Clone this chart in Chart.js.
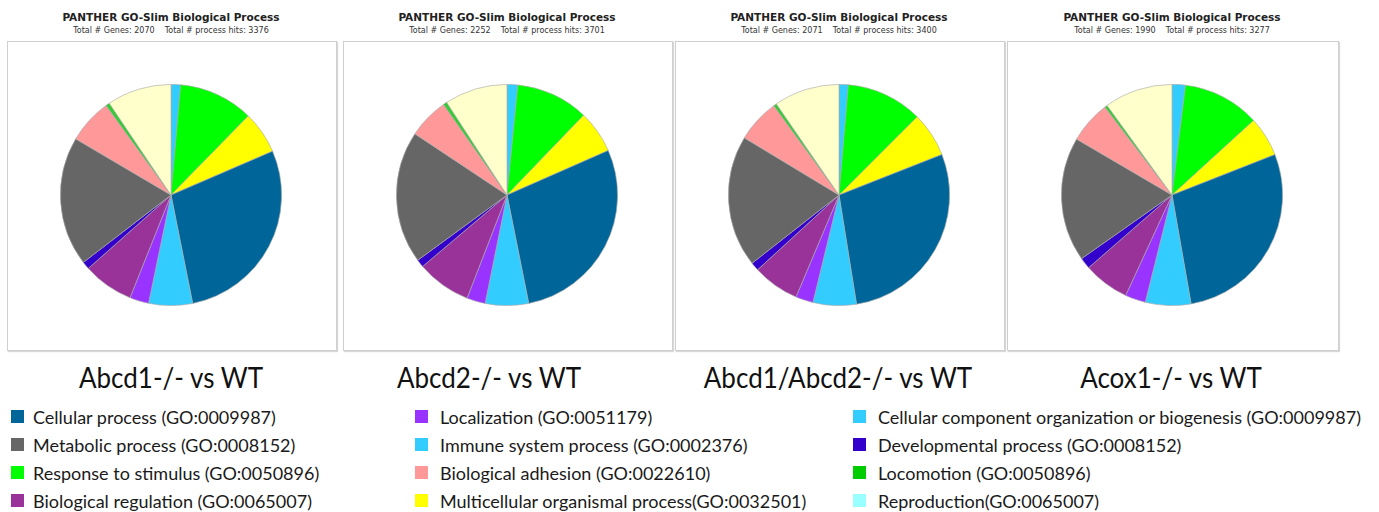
<!DOCTYPE html>
<html>
<head>
<meta charset="utf-8">
<script src="https://cdn.jsdelivr.net/npm/chart.js@4.4.1/dist/chart.umd.min.js"></script>
<style>
  html, body { margin: 0; padding: 0; background: #fff; }
  body { width: 1379px; height: 512px; position: relative; overflow: hidden; }
  .head { position: absolute; top: 0; width: 330px; text-align: center; font-family: "DejaVu Sans", sans-serif; color: #222; }
  .head .t { position: absolute; top: 11px; left: 0; right: 0; font-size: 10.5px; font-weight: bold; }
  .head .s { position: absolute; top: 26px; left: 0; right: 0; font-size: 8px; white-space: pre; color: #333; }
  .box { position: absolute; top: 41px; height: 308px; border: 1px solid #cfcfcf; box-shadow: 1px 1px 1px #d8d8d8; background: #fff; }
  .pie { position: absolute; width: 222px; height: 222px; }
  .cap { position: absolute; top: 361px; width: 340px; margin-left: -170px; text-align: center; font-family: Lato, sans-serif; font-size: 26px; color: #111; transform: scaleY(1.08); }
  .leg { position: absolute; font-family: Lato, sans-serif; font-size: 18px; color: #1a1a1a; white-space: nowrap; }
  .leg i { position: absolute; left: 0; top: 4px; width: 13px; height: 13px; }
  .leg span { position: absolute; top: 0; }
</style>
</head>
<body>
<script>
// slice order as drawn, clockwise from 12 o'clock
const sliceLabels = [
  'Cellular component organization or biogenesis', 'Response to stimulus',
  'Multicellular organismal process', 'Cellular process', 'Immune system process',
  'Localization', 'Biological regulation', 'Developmental process',
  'Metabolic process', 'Biological adhesion', 'Locomotion', 'Reproduction'
]
const sliceColors = [
  '#33ccff', '#00ff00', '#ffff00', '#006699', '#33ccff', '#9933ff',
  '#993399', '#3300cc', '#666666', '#ff9999', '#33cc33', '#ffffcc'
]

const comparisons = ['Abcd1-/- vs WT', 'Abcd2-/- vs WT', 'Abcd1/Abcd2-/- vs WT', 'Acox1-/- vs WT']
const totalGenes = [2070, 2252, 2071, 1990]
const totalHits = [3376, 3701, 3400, 3277]

// process hits per slice
const hitsAbcd1 = [47, 369, 209, 957, 216, 94, 250, 38, 638, 221, 19, 318]
const hitsAbcd2 = [58, 393, 230, 1053, 234, 100, 294, 42, 717, 220, 20, 340]
const hitsDouble = [46, 379, 222, 967, 215, 87, 232, 42, 654, 215, 15, 326]
const hitsAcox1 = [64, 369, 191, 924, 218, 98, 220, 54, 596, 203, 13, 327]
const hitSeries = [hitsAbcd1, hitsAbcd2, hitsDouble, hitsAcox1]

// shared legend, three columns of four
const legendLabels = [
  'Cellular process (GO:0009987)', 'Metabolic process (GO:0008152)',
  'Response to stimulus (GO:0050896)', 'Biological regulation (GO:0065007)',
  'Localization (GO:0051179)', 'Immune system process (GO:0002376)',
  'Biological adhesion (GO:0022610)', 'Multicellular organismal process(GO:0032501)',
  'Cellular component organization or biogenesis (GO:0009987)', 'Developmental process (GO:0008152)',
  'Locomotion (GO:0050896)', 'Reproduction(GO:0065007)'
]
const legendColors = [
  '#006699', '#666666', '#00ff00', '#993399',
  '#9933ff', '#33ccff', '#ff9999', '#ffff00',
  '#33ccff', '#3300cc', '#00cc00', '#99ffff'
]

// layout
const boxLeft = [7, 343, 675, 1007]
const boxWidth = [328, 328, 328, 330]
const capCenter = [171, 489, 838, 1171]
const legendX = [11, 415, 853]
const legendTextX = [33, 440, 878]
const legendRowY = [406, 434, 462, 490]

comparisons.forEach((name, i) => {
  const cx = boxLeft[i] + boxWidth[i] / 2

  const head = document.createElement('div')
  head.className = 'head'
  head.style.left = (cx - 165) + 'px'
  head.innerHTML = '<div class="t">PANTHER GO-Slim Biological Process</div>' +
    '<div class="s">Total # Genes: ' + totalGenes[i] + '    Total # process hits: ' + totalHits[i] + '</div>'
  document.body.appendChild(head)

  const box = document.createElement('div')
  box.className = 'box'
  box.style.left = boxLeft[i] + 'px'
  box.style.width = boxWidth[i] + 'px'
  document.body.appendChild(box)

  const wrap = document.createElement('div')
  wrap.className = 'pie'
  wrap.style.left = (cx - 111) + 'px'
  wrap.style.top = (195 - 111) + 'px'
  const canvas = document.createElement('canvas')
  wrap.appendChild(canvas)
  document.body.appendChild(wrap)

  const cap = document.createElement('div')
  cap.className = 'cap'
  cap.style.left = capCenter[i] + 'px'
  cap.textContent = name
  document.body.appendChild(cap)

  new Chart(canvas, {
    type: 'pie',
    data: {
      labels: sliceLabels,
      datasets: [{
        data: hitSeries[i],
        backgroundColor: sliceColors,
        borderColor: 'rgba(170,170,170,0.8)',
        borderWidth: 0.8,
      }]
    },
    options: {
      responsive: true,
      maintainAspectRatio: false,
      animation: false,
      layout: { padding: 0 },
      plugins: {
        legend: { display: false },
        tooltip: { enabled: false },
      }
    }
  })
})

legendLabels.forEach((label, k) => {
  const col = Math.floor(k / 4)
  const row = k % 4
  const item = document.createElement('div')
  item.className = 'leg'
  item.style.left = legendX[col] + 'px'
  item.style.top = legendRowY[row] + 'px'
  item.innerHTML = '<i style="background:' + legendColors[k] + '"></i>' +
    '<span style="left:' + (legendTextX[col] - legendX[col]) + 'px">' + label + '</span>'
  document.body.appendChild(item)
})
</script>
</body>
</html>
